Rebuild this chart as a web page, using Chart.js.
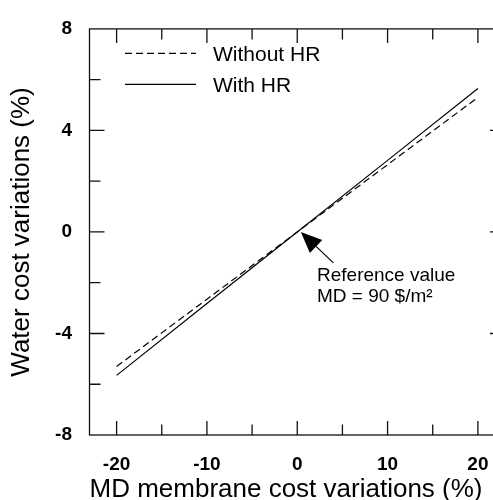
<!DOCTYPE html>
<html>
<head>
<meta charset="utf-8">
<script src="https://cdn.jsdelivr.net/npm/chart.js@4.4.1/dist/chart.umd.min.js"></script>
<style>
    html, body { margin: 0; padding: 0; background: #fff; }
    #wrap { width: 493px; height: 500px; overflow: hidden; }
</style>
</head>
<body>
<div id="wrap"><canvas id="costChart" width="512" height="500"></canvas></div>
<script>
// -----------------------------------------
// Daten
// -----------------------------------------
const membraneVar = [-20, -10, 0, 10, 20];
const withoutHR = [-5.3, -2.65, 0, 2.65, 5.3];
const withHR = [-5.65, -2.82, 0, 2.82, 5.65];
const seriesNames = ["Without HR", "With HR"];
const xMajor = [-20, -10, 0, 10, 20];
const xMinor = [-15, -5, 5, 15];
const yMajor = [-4, 0, 4];
const yMinor = [-6, -2, 2, 6];
const noteLines = ["Reference value", "MD = 90 $/m\u00B2"];

const FONT = "'Liberation Sans', Arial, sans-serif";

function toPoints(xs, ys) {
    return xs.map((x, i) => ({ x: x, y: ys[i] }));
}

// -----------------------------------------
// Rahmen, Ticks, Legende, Pfeil
// -----------------------------------------
const framePlugin = {
    id: "frame",
    afterDraw(chart) {
        const ctx = chart.ctx;
        const a = chart.chartArea;
        const xs = chart.scales.x;
        const ys = chart.scales.y;

        ctx.save();
        ctx.strokeStyle = "#111";
        ctx.lineWidth = 1.3;
        ctx.setLineDash([]);
        ctx.strokeRect(a.left, a.top, a.right - a.left, a.bottom - a.top);

        ctx.beginPath();
        xMajor.concat(xMinor).forEach(v => {
            const len = xMajor.includes(v) ? 14 : 10.5;
            const px = xs.getPixelForValue(v);
            ctx.moveTo(px, a.bottom); ctx.lineTo(px, a.bottom - len);
            ctx.moveTo(px, a.top); ctx.lineTo(px, a.top + len);
        });
        yMajor.concat(yMinor).forEach(v => {
            const len = yMajor.includes(v) ? 15 : 11;
            const py = ys.getPixelForValue(v);
            ctx.moveTo(a.left, py); ctx.lineTo(a.left + len, py);
            ctx.moveTo(a.right, py); ctx.lineTo(a.right - len, py);
        });
        ctx.stroke();

        // Legende
        const rows = [53.3, 84.3];
        ctx.font = "21px " + FONT;
        ctx.textBaseline = "middle";
        ctx.textAlign = "left";
        ctx.fillStyle = "#000";
        chart.data.datasets.forEach((ds, i) => {
            ctx.beginPath();
            ctx.lineWidth = 1.2;
            ctx.strokeStyle = "#000";
            ctx.setLineDash(ds.borderDash || []);
            ctx.moveTo(125, rows[i]);
            ctx.lineTo(196, rows[i]);
            ctx.stroke();
            ctx.fillText(ds.label, 213, rows[i] + 1.5);
        });
        ctx.setLineDash([]);

        // Pfeil zum Referenzwert
        const tipX = xs.getPixelForValue(0.4), tipY = ys.getPixelForValue(0);
        const tailX = xs.getPixelForValue(4.0), tailY = ys.getPixelForValue(-1.22);
        const ang = Math.atan2(tipY - tailY, tipX - tailX);
        const headLen = 21, headW = 9;
        const bx = tipX - headLen * Math.cos(ang), by = tipY - headLen * Math.sin(ang);
        ctx.beginPath();
        ctx.lineWidth = 1.2;
        ctx.moveTo(tailX, tailY);
        ctx.lineTo(bx, by);
        ctx.stroke();
        ctx.beginPath();
        ctx.moveTo(tipX, tipY);
        ctx.lineTo(bx + headW * Math.sin(ang), by - headW * Math.cos(ang));
        ctx.lineTo(bx - headW * Math.sin(ang), by + headW * Math.cos(ang));
        ctx.closePath();
        ctx.fill();

        ctx.font = "19px " + FONT;
        ctx.fillText(noteLines[0], 317, 276);
        ctx.fillText(noteLines[1], 317, 297);
        ctx.restore();
    }
};

// -----------------------------------------
// Diagramm
// -----------------------------------------
const ctx = document.getElementById("costChart").getContext("2d");

new Chart(ctx, {
    type: "line",
    data: {
        datasets: [{
            label: seriesNames[0],
            data: toPoints(membraneVar, withoutHR),
            borderColor: "#000",
            borderWidth: 1.2,
            borderDash: [7, 4],
            pointRadius: 0,
            fill: false
        }, {
            label: seriesNames[1],
            data: toPoints(membraneVar, withHR),
            borderColor: "#000",
            borderWidth: 1.2,
            pointRadius: 0,
            fill: false
        }]
    },
    options: {
        responsive: false,
        animation: false,
        layout: { padding: { left: 0, right: 7, top: 21, bottom: 0 } },
        plugins: {
            legend: { display: false },
            tooltip: { enabled: false }
        },
        scales: {
            x: {
                type: "linear",
                min: -23,
                max: 23,
                afterFit: s => { s.height = 65; },
                grid: { display: false, drawTicks: false },
                border: { display: false },
                ticks: {
                    stepSize: 10,
                    includeBounds: false,
                    padding: 18,
                    color: "#000",
                    font: { family: FONT, size: 19, weight: "bold" }
                },
                title: {
                    display: true,
                    align: "start",
                    text: "MD membrane cost variations (%)",
                    color: "#000",
                    font: { family: FONT, size: 26, lineHeight: 0.8 },
                    padding: 0
                }
            },
            y: {
                min: -8,
                max: 8,
                afterFit: s => { s.width = 89.5; },
                grid: { display: false, drawTicks: false },
                border: { display: false },
                ticks: {
                    stepSize: 4,
                    padding: 17.5,
                    color: "#000",
                    font: { family: FONT, size: 19, weight: "bold" }
                },
                title: {
                    display: true,
                    text: "Water cost variations (%)",
                    color: "#000",
                    font: { family: FONT, size: 26, lineHeight: 1.2 },
                    padding: { top: 6, bottom: 0 }
                }
            }
        }
    },
    plugins: [framePlugin]
});
</script>
</body>
</html>
